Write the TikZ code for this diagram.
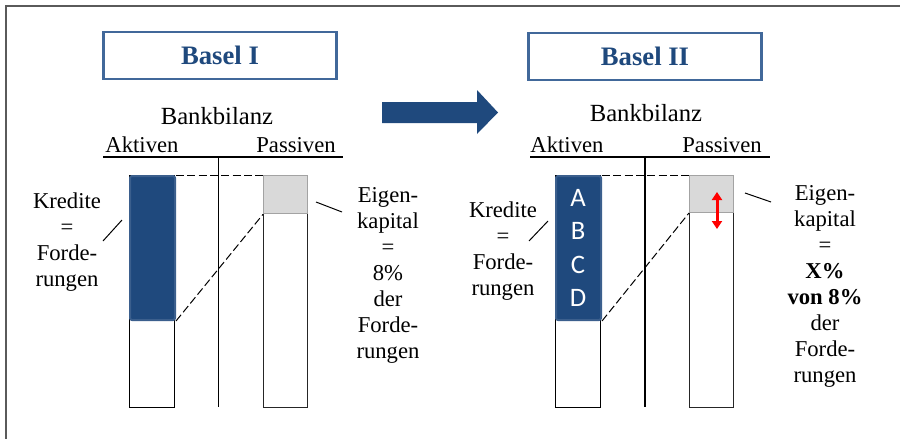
\documentclass[tikz,border=0pt]{standalone}
\usepackage{fontspec}
\setmainfont{Liberation Serif}
\newfontfamily\serifschrift{Liberation Serif}
\newfontfamily\abcdfont{Carlito}
\usepackage{tikz}
\usetikzlibrary{positioning,arrows.meta}

\definecolor{baselblau}{HTML}{1F497D}
\definecolor{boxblau}{HTML}{41689A}
\definecolor{barrand}{HTML}{3B5F8D}
\definecolor{ekgrau}{HTML}{D9D9D9}
\definecolor{ekrand}{HTML}{A3A3A3}
\definecolor{rahmen}{HTML}{5A5A5A}

\tikzset{
  titelbox/.style={draw=boxblau, line width=2pt, fill=white, inner sep=0pt,
    minimum width=175pt, minimum height=35.25pt,
    font=\serifschrift\fontsize{20}{24}\selectfont\bfseries, text=baselblau},
  aktiva/.style={draw, fill=white, line width=0.75pt, inner sep=0pt,
    minimum width=33.75pt, minimum height=174pt, anchor=north west},
  kredite/.style={draw=barrand, fill=baselblau, line width=1.5pt, rounded corners=1.5pt,
    inner sep=0pt, minimum width=33.75pt, minimum height=108pt, anchor=north west},
  passiva/.style={draw=black!85, fill=white, line width=0.75pt, inner sep=0pt,
    minimum width=33pt, minimum height=174pt, anchor=north west},
  eigenkapital/.style={draw=ekrand, fill=ekgrau, line width=1pt, inner sep=0pt,
    minimum width=33pt, minimum height=28pt, anchor=north west},
  beschriftung/.style={align=center, inner sep=0pt, anchor=north,
    font=\serifschrift\fontsize{17}{19.5}\selectfont},
  spalte/.style={inner sep=0pt, anchor=base, font=\serifschrift\fontsize{17}{20}\selectfont},
  bilanz/.style={inner sep=0pt, font=\serifschrift\fontsize{18.5}{22}\selectfont},
  buchstabe/.style={inner sep=0pt, text=white, font=\abcdfont\fontsize{20}{24}\selectfont},
  hilfslinie/.style={dash pattern=on 6pt off 2.5pt, line width=0.75pt},
}

\begin{document}
\begin{tikzpicture}[x=0.75pt, y=-0.75pt]

\useasboundingbox (0,0) rectangle (900,439);

% Rahmen
\draw [rahmen, line width=1.5pt] (900,5.5) -- (5.5,5.5) -- (5.5,439);

% Basel I
\node [titelbox] (basel1) at (220,55.5) {Basel I};
\node [bilanz] (bilanz1) at (217,116) {Bankbilanz};
\node [spalte] (aktiv1) at (142,152) {Aktiven};
\node [spalte] (passiv1) at (296,152) {Passiven};
\draw [line width=1pt] (103,157) coordinate (kopf1a) -- (343,157) coordinate (kopf1b);
\draw [line width=0.75pt] (218,157) coordinate (mitte1a) -- (218,407) coordinate (mitte1b);

\node [aktiva] (aktiva1) at (129,175) {};
\node [kredite] (kred1) at (129,175) {};
\node [passiva] (passiva1) at (263,175) {};
\node [eigenkapital, minimum height=28.5pt] (ek1) at (263,175) {};

\draw [hilfslinie] (kred1.north east) -- (ek1.north west);
\draw [hilfslinie] (kred1.south east) -- (ek1.south west);

\node [beschriftung] (kredtext1) at (67,193) {Kredite\\=\\Forde-\\rungen};
\node [beschriftung] (ektext1) at (388,187) {Eigen-\\kapital\\=\\8\%\\der\\Forde-\\rungen};

\coordinate (kl1a) at (103,241);
\coordinate (kl1b) at (122,220);
\draw [line width=0.75pt] (kl1a) -- (kl1b);
\coordinate (el1a) at (316,202);
\coordinate (el1b) at (342,212);
\draw [line width=0.75pt] (el1a) -- (el1b);

% Pfeil
\fill [baselblau] (382,102) -- (477,102) -- (477,90) -- (498,112.5) -- (477,134) -- (477,123) -- (382,123) -- cycle;

% Basel II
\node [titelbox] (basel2) at (645,56.5) {Basel II};
\node [bilanz] (bilanz2) at (646,113) {Bankbilanz};
\node [spalte] (aktiv2) at (567,152) {Aktiven};
\node [spalte] (passiv2) at (722,152) {Passiven};
\draw [line width=1pt] (530,157) coordinate (kopf2a) -- (770,157) coordinate (kopf2b);
\draw [line width=1.5pt] (645,157) coordinate (mitte2a) -- (645,407) coordinate (mitte2b);

\node [aktiva] (aktiva2) at (555,175) {};
\node [kredite] (kred2) at (555,175) {};
\node [passiva] (passiva2) at (689,175) {};
\node [eigenkapital, minimum height=27.5pt] (ek2) at (689,175) {};

\foreach \b [count=\i] in {A,B,C,D}
  \node [buchstabe] (buchst-\b) at (578,164+33.5*\i) {\b};

\draw [hilfslinie] (kred2.north east) -- (ek2.north west);
\draw [hilfslinie] (kred2.south east) -- (ek2.south west);

\coordinate (pfeilo) at (717,192);
\coordinate (pfeilu) at (717,229);
\draw [red, line width=2.25pt, {Triangle[length=6pt,width=7.5pt]}-{Triangle[length=6pt,width=7.5pt]}] (pfeilo) -- (pfeilu);

\node [beschriftung] (kredtext2) at (503,202) {Kredite\\=\\Forde-\\rungen};
\node [beschriftung] (ektext2) at (825,185) {Eigen-\\kapital\\=\\\textbf{X\%}\\\textbf{von 8\%}\\der\\Forde-\\rungen};

\coordinate (kl2a) at (529,241);
\coordinate (kl2b) at (548,221);
\draw [line width=0.75pt] (kl2a) -- (kl2b);
\coordinate (el2a) at (745,193);
\coordinate (el2b) at (771,202);
\draw [line width=0.75pt] (el2a) -- (el2b);

\end{tikzpicture}
\end{document}
